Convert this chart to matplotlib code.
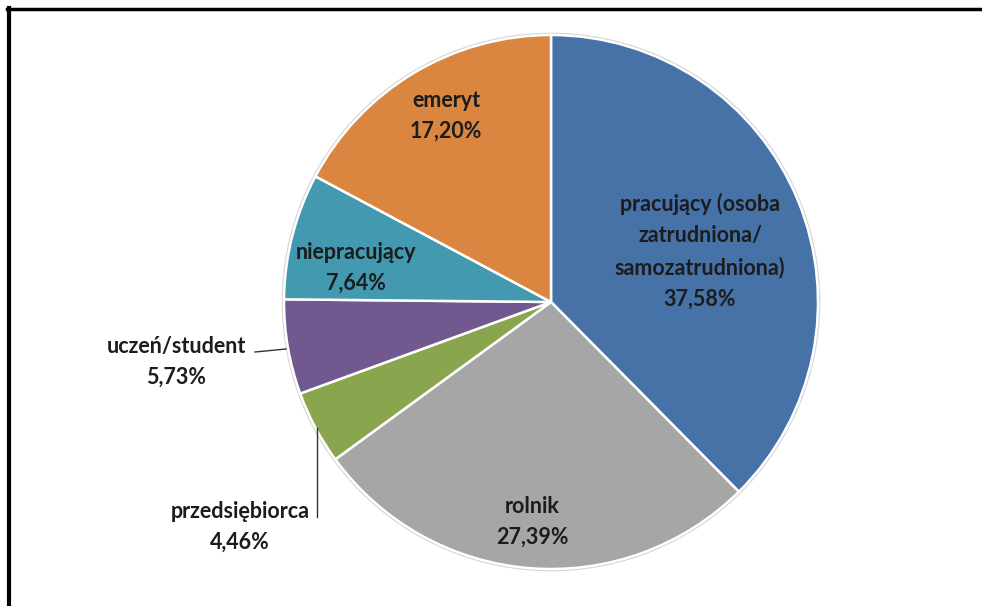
import matplotlib
matplotlib.use("Agg")
from matplotlib import pyplot as plt
from matplotlib.lines import Line2D
import numpy as np

labels = ["pracujący (osoba\nzatrudniona/\nsamozatrudniona)", "rolnik", "przedsiębiorca",
          "uczeń/student", "niepracujący", "emeryt"]
values = [37.58, 27.39, 4.46, 5.73, 7.64, 17.20]
colors = ["#4672A8", "#A6A6A6", "#89A54E", "#71588F", "#4399B0", "#DA8640"]

W, H = 982, 606
cx, cy, R = 551, 302, 267   # pie centre and radius in pixels


def px(x, y):
    # pixel position (from top-left) -> data coords, pie radius = 1
    return (x - cx) / R, (cy - y) / R


# label centres in pixels
label_px = [(700, 251), (532, 522), (240, 527), (176, 362), (356, 268), (446, 116)]

fig = plt.figure(figsize=(W / 100, H / 100), dpi=100)
ax = fig.add_axes([0, 0, 1, 1])

# faint outline around the pie
ax.add_patch(plt.Circle((0, 0), 1.006, color="#d4d4d4", zorder=0))

ax.pie(values, colors=colors, startangle=90, counterclock=False, radius=1,
       wedgeprops=dict(edgecolor="white", linewidth=1.8), frame=True)
ax.set_xlim(-cx / R, (W - cx) / R)
ax.set_ylim((cy - H) / R, cy / R)
ax.set_aspect("auto")
ax.axis("off")

for lab, v, (x, y) in zip(labels, values, label_px):
    s = lab + "\n" + f"{v:.2f}".replace(".", ",") + "%"
    tx, ty = px(x, y)
    ax.text(tx, ty, s, ha="center", va="center", fontsize=15.5, fontweight="bold",
            family=["Lato", "DejaVu Sans"], color="#1c1c1c", linespacing=1.6)

# leader lines
x0, y0 = px(255, 352)
x1, y1 = px(286, 349)
ax.plot([x0, x1], [y0, y1], color="#333333", lw=1)
x0, y0 = px(317, 517)
x1, y1 = px(317, 428)
ax.plot([x0, x1], [y0, y1], color="#333333", lw=1)

# frame: top and left edges
fig.add_artist(Line2D([7 / W, 1], [1 - 9 / H, 1 - 9 / H], color="black", lw=2.5,
                      transform=fig.transFigure))
fig.add_artist(Line2D([9 / W, 9 / W], [0, 1 - 8 / H], color="black", lw=3,
                      transform=fig.transFigure))

fig.savefig("out.png", dpi=100)
